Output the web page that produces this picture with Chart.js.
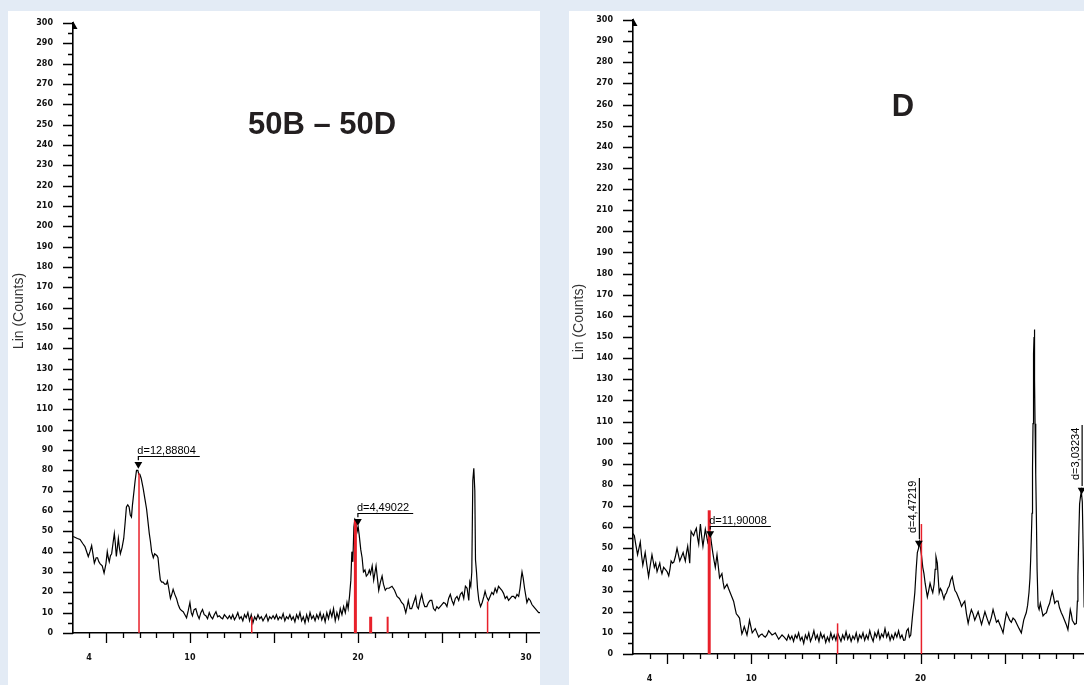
<!DOCTYPE html>
<html>
<head>
<meta charset="utf-8">
<script src="https://cdn.jsdelivr.net/npm/chart.js@4.4.1/dist/chart.umd.min.js"></script>
<style>
  body { margin: 0; width: 1084px; height: 685px; overflow: hidden; background: #e3ebf5; }
  .panel { position: absolute; background: #fff; }
  #p1 { left: 8px; top: 11px; width: 532px; height: 674px; }
  #p2 { left: 569px; top: 11px; width: 515px; height: 674px; }
  canvas { display: block; }
</style>
</head>
<body>
<div class="panel" id="p1"><canvas id="c1" width="532" height="674"></canvas></div>
<div class="panel" id="p2"><canvas id="c2" width="515" height="674"></canvas></div>
<script>
// ---- data (2-Theta, Lin counts) ----
const leftScan = [
  [3.05,47.5],[3.3,46.5],[3.46,46],[3.62,44],[3.75,42.5],[3.95,37.6],[4.05,40],[4.15,43],[4.31,34.4],[4.42,37],
  [4.5,37],[4.58,35],[4.66,34],[4.78,33],[4.89,29.5],[5.0,34],[5.08,40],[5.14,37],[5.2,35],[5.27,38],
  [5.34,39],[5.42,44],[5.5,49],[5.56,44],[5.62,37.6],[5.68,42],[5.74,46.5],[5.8,42],[5.86,39],[5.96,42],
  [6.06,46.5],[6.14,54],[6.22,62],[6.3,63],[6.38,62],[6.45,58],[6.52,57],[6.58,63],[6.66,69],[6.74,75],
  [6.82,80],[6.9,80],[6.96,78],[7.02,78],[7.1,76],[7.22,71],[7.32,66],[7.42,61],[7.5,55],[7.58,49],
  [7.65,45],[7.72,40],[7.82,37],[7.9,39],[7.97,38.5],[8.04,38],[8.1,37],[8.17,31],[8.24,26],[8.32,25],
  [8.4,25],[8.5,24],[8.6,24],[8.66,25.5],[8.72,23],[8.84,17],[8.92,19],[9.0,21.5],[9.1,19],[9.2,17],
  [9.3,14],[9.4,12],[9.5,11],[9.6,10.5],[9.7,9],[9.8,7.5],[9.9,11],[10.0,15],[10.08,10],[10.15,8.5],
  [10.25,11.5],[10.35,12],[10.45,9],[10.55,7],[10.65,10],[10.75,11.5],[10.85,9],[10.95,8.5],[11.05,7],[11.15,10],
  [11.25,8],[11.35,7],[11.45,9],[11.55,10.5],[11.65,8],[11.75,8.5],[11.85,7.5],[11.95,7],[12.05,9],[12.15,8],
  [12.25,7],[12.35,8.5],[12.45,7],[12.55,9],[12.65,6.5],[12.75,8],[12.85,10],[12.95,7],[13.05,8],[13.15,6],
  [13.25,9],[13.35,7.5],[13.45,10],[13.55,6],[13.65,9],[13.75,5],[13.85,8],[13.95,6.5],[14.05,9],[14.15,7],
  [14.25,8],[14.35,6],[14.45,7.5],[14.55,9],[14.65,6],[14.75,8],[14.85,7],[14.95,8.5],[15.05,7],[15.15,9],
  [15.25,6.5],[15.35,8],[15.45,7],[15.55,9.5],[15.65,6],[15.75,8],[15.85,7],[15.95,9],[16.05,6.5],[16.15,8],
  [16.25,5.5],[16.35,9],[16.45,7],[16.55,10],[16.65,6],[16.75,8],[16.85,5],[16.95,9],[17.05,6],[17.15,10],
  [17.25,7],[17.35,8.5],[17.45,6],[17.55,9],[17.65,7],[17.75,10],[17.85,6.5],[17.95,9],[18.05,5.5],[18.15,10],
  [18.25,7],[18.35,11],[18.45,8],[18.55,12],[18.65,6],[18.75,10],[18.85,7],[18.95,12],[19.05,9],[19.15,13],
  [19.25,10],[19.35,15],[19.42,12],[19.5,18],[19.58,26],[19.64,40],[19.7,35],[19.76,52],[19.82,56],[19.9,55],
  [19.96,50],[20.02,52],[20.08,48],[20.17,41],[20.25,37],[20.33,30],[20.42,31],[20.5,28],[20.6,29],[20.68,31],
  [20.75,29],[20.85,33],[20.94,26],[21.02,30],[21.08,33],[21.16,27],[21.24,21],[21.34,25],[21.44,28],[21.52,24],
  [21.63,21],[21.72,22],[21.85,22],[22.03,23],[22.18,21],[22.33,18],[22.47,17],[22.6,15],[22.72,14],[22.85,10],
  [22.93,13],[23.0,16],[23.1,12],[23.2,12],[23.32,15],[23.44,18],[23.52,13],[23.6,12],[23.7,16],[23.8,19],
  [23.9,15],[23.98,13],[24.1,13],[24.2,15],[24.3,16],[24.4,16],[24.5,12],[24.6,11],[24.7,13],[24.8,12],
  [24.9,13],[25.0,14],[25.1,15],[25.2,14.5],[25.3,13],[25.4,17],[25.5,19],[25.6,16],[25.7,14],[25.8,17],
  [25.9,18],[26.0,16],[26.1,19],[26.2,20],[26.3,17],[26.4,23],[26.5,22],[26.6,16],[26.66,25],[26.72,23],
  [26.78,30],[26.84,75],[26.9,81],[26.96,70],[27.0,36],[27.06,30],[27.12,22],[27.2,16],[27.3,13],[27.4,15],
  [27.5,18],[27.57,20.5],[27.65,18],[27.77,16],[27.87,18],[27.97,20],[28.07,19],[28.17,22],[28.27,20],[28.37,23],
  [28.47,22],[28.57,21],[28.67,19.5],[28.77,17],[28.87,18],[28.97,16],[29.07,17],[29.17,18],[29.27,18],[29.37,17],
  [29.47,19],[29.57,18],[29.65,22],[29.72,27],[29.77,30],[29.84,27],[29.92,22],[30.0,18],[30.06,15],[30.16,17],
  [30.26,16],[30.36,14],[30.46,13],[30.56,12],[30.66,11],[30.76,10],[30.85,10]
];
const leftStickPos = [6.97, 13.68, 19.85, 20.76, 21.77, 27.72];
const leftStickInt = [78.6, 8, 55.7, 8, 8, 15.5];
const leftPeakPos = [6.93, 20.0];
const leftPeakInt = [83, 55];
const leftPeakLabel = ['d=12,88804', 'd=4,49022'];
const leftXLabels = [4, 10, 20, 30];

const rightScan = [
  [3.02,57],[3.1,56],[3.18,52],[3.29,47],[3.37,50],[3.45,53],[3.52,47],[3.6,42],[3.67,45],[3.74,48],
  [3.84,42],[3.94,36.6],[4.04,42],[4.14,47],[4.21,44],[4.28,41],[4.36,43],[4.44,39],[4.52,41],[4.6,43],
  [4.66,40],[4.73,38],[4.83,41],[4.93,40],[5.03,39],[5.13,37],[5.2,40],[5.27,44],[5.35,43],[5.43,43.5],
  [5.52,46],[5.62,50],[5.7,47],[5.78,44],[5.88,46],[5.98,48],[6.04,46],[6.11,44],[6.18,48],[6.25,51],
  [6.31,47],[6.37,43],[6.41,52],[6.45,58],[6.52,57],[6.6,56],[6.68,58],[6.76,59.5],[6.83,55],[6.9,52],
  [6.95,57],[7.0,61.5],[7.07,56],[7.15,51],[7.22,55],[7.29,59],[7.36,56],[7.43,53],[7.5,55],[7.58,57],
  [7.66,52],[7.74,47.5],[7.81,44],[7.88,41],[7.93,44],[7.98,47],[8.05,42],[8.13,36],[8.2,37],[8.27,38],
  [8.34,34],[8.41,31],[8.49,32],[8.57,33],[8.66,31],[8.76,29],[8.86,27],[8.96,25],[9.04,22],[9.12,19],
  [9.22,18],[9.31,17],[9.38,13],[9.45,9.5],[9.52,11],[9.59,13],[9.67,11],[9.75,9],[9.82,12],[9.9,16],
  [9.98,13],[10.06,10],[10.15,11],[10.24,12],[10.34,10],[10.44,8],[10.54,9],[10.64,9.5],[10.74,8.5],[10.83,8],
  [10.93,9],[11.03,11],[11.13,10],[11.23,9],[11.33,9.5],[11.42,10],[11.52,8.5],[11.62,7],[11.72,8],[11.82,9],
  [11.95,8],[12.1,6.5],[12.2,9],[12.3,7],[12.4,8.5],[12.5,6],[12.6,9],[12.7,7.5],[12.8,10],[12.9,6.5],
  [13.0,8],[13.1,5],[13.2,9],[13.3,7],[13.4,10],[13.5,6],[13.6,8],[13.7,11],[13.8,7],[13.9,9],
  [14.0,6],[14.1,10],[14.2,7.5],[14.3,9],[14.4,5.5],[14.5,8],[14.6,6],[14.7,10],[14.8,7],[14.9,9],
  [15.0,6.5],[15.1,10],[15.2,8],[15.3,6],[15.4,9],[15.5,7],[15.6,10.5],[15.7,7],[15.8,9],[15.9,6],
  [16.0,8.5],[16.1,7],[16.2,10],[16.3,6],[16.4,9],[16.5,7.5],[16.6,10],[16.7,6.5],[16.8,9],[16.9,7],
  [17.0,11],[17.1,8],[17.2,6],[17.3,10],[17.4,8],[17.5,11],[17.6,7],[17.7,9.5],[17.8,8],[17.9,12],
  [18.0,8],[18.1,10],[18.2,6.5],[18.3,9],[18.4,7],[18.5,10],[18.6,8],[18.7,11],[18.8,7.5],[18.9,9],
  [19.0,6.5],[19.08,6.6],[19.18,11],[19.27,12],[19.34,8],[19.42,9],[19.52,17.7],[19.6,24],[19.66,29],[19.74,40],
  [19.81,48],[19.88,50],[19.94,53],[19.98,51],[20.05,47],[20.13,41],[20.2,38],[20.27,33.5],[20.34,30],[20.4,27],
  [20.48,30],[20.56,33.5],[20.64,31],[20.72,29],[20.8,33],[20.86,40],[20.91,46],[20.99,43],[21.05,35],[21.1,29],
  [21.17,31],[21.24,30],[21.31,28],[21.38,26],[21.45,28],[21.53,29],[21.61,31],[21.69,32],[21.78,35],[21.87,36.6],
  [21.95,33],[22.03,30],[22.12,29],[22.22,27],[22.32,25],[22.42,22.5],[22.52,24],[22.61,25],[22.71,19],[22.81,14.5],
  [22.9,18],[23.0,21],[23.1,19],[23.2,16],[23.3,18],[23.4,20],[23.5,17],[23.6,14],[23.7,17],[23.8,20],
  [23.92,17],[24.05,14],[24.17,17],[24.28,21],[24.38,18],[24.48,15],[24.58,16],[24.68,14],[24.78,12],[24.87,10],
  [24.97,15],[25.07,19.5],[25.16,18],[25.26,16],[25.36,15],[25.46,17],[25.58,16],[25.7,14],[25.82,12],[25.95,10],
  [26.02,13],[26.09,16],[26.17,18],[26.24,19.5],[26.32,23],[26.4,29],[26.46,36],[26.5,44.5],[26.54,55],[26.58,66.6],
  [26.61,88],[26.64,109],[26.66,125],[26.68,142],[26.7,150],[26.72,153.6],[26.74,130],[26.76,109],[26.8,85],[26.84,64],
  [26.88,40],[26.94,22.5],[27.0,21],[27.07,24],[27.15,21],[27.23,18],[27.33,19],[27.43,19.5],[27.52,22],[27.62,24],
  [27.7,27],[27.78,29.6],[27.85,27],[27.92,24],[28.02,25],[28.12,25],[28.2,22],[28.31,19.5],[28.4,18],[28.5,16],
  [28.6,14],[28.7,11.5],[28.77,16],[28.84,21],[28.9,19],[28.96,16],[29.03,15],[29.1,14],[29.2,14.5],[29.26,25],
  [29.29,36.6],[29.34,55],[29.39,71],[29.45,75],[29.49,77],[29.55,72],[29.6,50],[29.66,22]
];
const rightStickPos = [7.52, 15.1, 20.05];
const rightStickInt = [68, 14.5, 61.5];
const rightPeakPos = [7.58, 19.9, 29.51];
const rightPeakInt = [57, 52.5, 77.6];
const rightPeakLabel = ['d=11,90008', 'd=4,47219', 'd=3,03234'];
const rightXLabels = [4, 10, 20];

// ---- drawing ----
Chart.defaults.font.family = "'DejaVu Sans', sans-serif";
const TICK_FONT = { family: "'DejaVu Sans'", size: 8, weight: 'bold' };
const ANNOT_FONT = "11px 'Liberation Sans', Arial, sans-serif";

const xrdDecor = {
  id: 'xrdDecor',
  afterDraw(chart, args, o) {
    const { ctx, chartArea: a, scales: { x, y } } = chart;
    ctx.save();
    // tick marks, major and minor
    ctx.strokeStyle = '#000';
    ctx.lineWidth = 1.3;
    ctx.beginPath();
    for (let v = 0; v <= 300; v += 5) {
      const py = Math.round(y.getPixelForValue(v)) + 0.5;
      const len = v % 10 === 0 ? 10 : 5;
      ctx.moveTo(a.left - len, py); ctx.lineTo(a.left, py);
    }
    for (let v = Math.ceil(x.min); v <= x.max; v++) {
      const px = Math.round(x.getPixelForValue(v)) + 0.5;
      const len = v % 5 === 0 ? 10 : 5;
      ctx.moveTo(px, a.bottom); ctx.lineTo(px, a.bottom + len);
    }
    ctx.stroke();
    // little arrow head at the top of the y axis
    ctx.fillStyle = '#000';
    ctx.beginPath();
    ctx.moveTo(a.left, a.top - 2); ctx.lineTo(a.left + 4.5, a.top + 6); ctx.lineTo(a.left, a.top + 6);
    ctx.closePath(); ctx.fill();

    // d-spacing labels with leader lines
    ctx.font = ANNOT_FONT;
    ctx.lineWidth = 1.2;
    o.peaks.forEach((p, i) => {
      const px = x.getPixelForValue(p.x), py = y.getPixelForValue(p.y);
      const w = ctx.measureText(p.label).width;
      ctx.beginPath();
      if (o.vertical[i]) {
        ctx.moveTo(px + 0.5, py - 4); ctx.lineTo(px + 0.5, py - 65);
        ctx.stroke();
        ctx.save();
        ctx.translate(px - 6, py - 10);
        ctx.rotate(-Math.PI / 2);
        ctx.textBaseline = 'middle'; ctx.textAlign = 'left';
        ctx.fillText(p.label, 0, 0);
        ctx.restore();
      } else {
        const ly = Math.round(py - 8) + 0.5;
        ctx.moveTo(px, py - 4); ctx.lineTo(px, ly); ctx.lineTo(px + w + 3, ly);
        ctx.stroke();
        ctx.textBaseline = 'alphabetic'; ctx.textAlign = 'left';
        ctx.fillText(p.label, px - 1, ly - 3);
      }
    });

    // y axis name
    ctx.fillStyle = '#333';
    ctx.font = "14px 'Liberation Sans', Arial, sans-serif";
    ctx.save();
    ctx.translate(o.yTitle[0], o.yTitle[1]);
    ctx.rotate(-Math.PI / 2);
    ctx.textAlign = 'center'; ctx.textBaseline = 'middle';
    ctx.fillText('Lin (Counts)', 0, 0);
    ctx.restore();

    // panel heading
    ctx.fillStyle = '#231f20';
    ctx.font = "bold 31px 'Liberation Sans', Arial, sans-serif";
    ctx.textAlign = 'center'; ctx.textBaseline = 'middle';
    ctx.fillText(o.heading, o.headPos[0], o.headPos[1]);
    ctx.restore();
  }
};

// invisible tick marks push the labels away from the axis without
// adding the extra scale padding that ticks.padding would add
const hiddenTicks = (len) => ({
  display: true, drawOnChartArea: false, drawTicks: true,
  tickLength: len, tickColor: 'rgba(0,0,0,0)', color: 'rgba(0,0,0,0)'
});

function makeXrd(canvasId, c) {
  const stickSets = c.stickPos.map((s, i) => ({
    data: [{ x: s, y: 0 }, { x: s, y: c.stickInt[i] }],
    showLine: true, borderColor: '#e8202a', borderWidth: c.stickWidth[i],
    pointRadius: 0, order: 1
  }));
  const peaks = c.peakPos.map((p, i) => ({ x: p, y: c.peakInt[i], label: c.peakLabel[i] }));
  return new Chart(document.getElementById(canvasId), {
    type: 'scatter',
    data: {
      datasets: [
        {
          data: peaks.map(p => ({ x: p.x, y: p.y })),
          pointStyle: 'triangle', rotation: 180, pointRadius: 4.5,
          backgroundColor: '#000', borderColor: '#000', borderWidth: 0, order: 0
        },
        ...stickSets,
        {
          data: c.scan.map(([x, y]) => ({ x, y })),
          showLine: true, borderColor: '#000', borderWidth: 1.2,
          pointRadius: 0, tension: 0, order: 2
        }
      ]
    },
    options: {
      responsive: false, animation: false, events: [],
      layout: { autoPadding: false, padding: { top: c.padTop, left: 0, right: 0, bottom: 0 } },
      plugins: {
        legend: { display: false }, tooltip: { enabled: false },
        xrdDecor: { peaks, vertical: c.vertical, yTitle: c.yTitle, heading: c.heading, headPos: c.headPos }
      },
      scales: {
        x: {
          type: 'linear', min: c.xMin, max: c.xMax,
          border: { display: true, color: '#000', width: 1.6 },
          grid: hiddenTicks(19),
          ticks: { font: TICK_FONT, color: '#111', padding: 1, maxRotation: 0, autoSkip: false },
          afterBuildTicks: s => { s.ticks = c.xLabels.map(v => ({ value: v })); },
          afterFit: s => { s.height = c.xAxisH; s.paddingLeft = 0; s.paddingRight = 0; }
        },
        y: {
          min: 0, max: 300,
          border: { display: true, color: '#000', width: 1.6 },
          grid: hiddenTicks(19),
          ticks: { stepSize: 10, font: TICK_FONT, color: '#111', padding: 1, autoSkip: false },
          afterFit: s => { s.width = c.yAxisW; s.paddingTop = 0; s.paddingBottom = 0; }
        }
      }
    },
    plugins: [xrdDecor]
  });
}

makeXrd('c1', {
  scan: leftScan, stickPos: leftStickPos, stickInt: leftStickInt,
  stickWidth: [1.5, 1.5, 3, 3, 2, 1.5],
  peakPos: leftPeakPos, peakInt: leftPeakInt, peakLabel: leftPeakLabel, vertical: [false, false],
  xLabels: leftXLabels, xMin: 3.04, xMax: 30.84,
  padTop: 12, yAxisW: 65, xAxisH: 52,
  yTitle: [11.5, 300], heading: '50B \u2013 50D', headPos: [314, 114]
});

makeXrd('c2', {
  scan: rightScan, stickPos: rightStickPos, stickInt: rightStickInt,
  stickWidth: [3, 1.5, 1.5],
  peakPos: rightPeakPos, peakInt: rightPeakInt, peakLabel: rightPeakLabel, vertical: [false, true, true],
  xLabels: rightXLabels, xMin: 3.02, xMax: 29.65,
  padTop: 9, yAxisW: 64, xAxisH: 31,
  yTitle: [10, 311], heading: 'D', headPos: [334, 96]
});
</script>
</body>
</html>
